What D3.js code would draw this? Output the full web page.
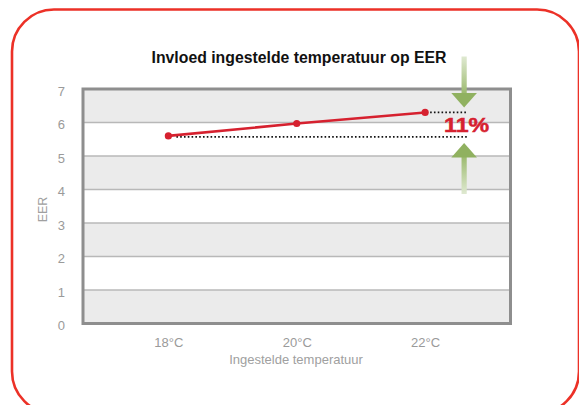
<!DOCTYPE html>
<html>
<head>
<meta charset="utf-8">
<script src="https://cdn.jsdelivr.net/npm/d3@7"></script>
<style>
  body { margin: 0; background: #fff; }
  svg { display: block; font-family: "Helvetica Neue", Helvetica, "Liberation Sans", Arial, sans-serif; }
</style>
</head>
<body>
<script>
// chart data
var categories = ["18°C", "20°C", "22°C"];
var eerValues = [5.6, 5.97, 6.3];
var yTicks = [0, 1, 2, 3, 4, 5, 6, 7];
// dotted reference levels (start category, level)
var refCats = ["18°C", "22°C"];
var refLevels = [5.57, 6.3];
var gainLabel = "11%";

var width = 579;
var height = 405;
var plot = {left: 83, right: 510.5, top: 89, bottom: 323.5};

var svg = d3.select("body").append("svg")
    .attr("width", width)
    .attr("height", height);

var defs = svg.append("defs");

// red rounded frame round everything
svg.append("rect")
    .attr("x", 12)
    .attr("y", 9.5)
    .attr("width", 567)
    .attr("height", 404)
    .attr("rx", 42)
    .attr("fill", "none")
    .attr("stroke", "#ec3127")
    .attr("stroke-width", 2.6);

// title
svg.append("text")
    .attr("x", 299)
    .attr("y", 62.5)
    .attr("text-anchor", "middle")
    .style("font-size", "15.8px")
    .style("font-weight", "bold")
    .attr("fill", "#111")
    .text("Invloed ingestelde temperatuur op EER");

var x = d3.scalePoint()
    .domain(categories)
    .range([plot.left, plot.right])
    .padding(0.665);

var y = d3.scaleLinear()
    .domain([0, 7])
    .range([plot.bottom, plot.top]);

// alternating bands
var bands = yTicks.slice(0, -1).filter(function (d) { return d % 2 === 0; });
svg.selectAll(".band").data(bands).enter().append("rect")
    .classed("band", true)
    .attr("x", plot.left)
    .attr("width", plot.right - plot.left)
    .attr("y", function (d) { return y(d + 1); })
    .attr("height", function (d) { return y(d) - y(d + 1); })
    .attr("fill", "#ebebeb");

// grid lines
svg.selectAll(".grid").data(yTicks.slice(1, -1)).enter().append("line")
    .classed("grid", true)
    .attr("x1", plot.left)
    .attr("x2", plot.right)
    .attr("y1", function (d) { return y(d); })
    .attr("y2", function (d) { return y(d); })
    .attr("stroke", "#b8b8b8")
    .attr("stroke-width", 1.3);

// plot frame
svg.append("rect")
    .attr("x", plot.left)
    .attr("y", plot.top)
    .attr("width", plot.right - plot.left)
    .attr("height", plot.bottom - plot.top)
    .attr("fill", "none")
    .attr("stroke", "#8e8e8e")
    .attr("stroke-width", 3);

// axes
var yAxis = svg.append("g")
    .attr("transform", "translate(" + plot.left + ",2)")
    .call(d3.axisLeft(y).tickValues(yTicks).tickSize(0).tickPadding(18).tickFormat(d3.format("d")));
var xAxis = svg.append("g")
    .attr("transform", "translate(0," + plot.bottom + ")")
    .call(d3.axisBottom(x).tickSize(0).tickPadding(14));
[yAxis, xAxis].forEach(function (g) {
    g.select(".domain").remove();
    g.selectAll("text")
        .attr("fill", "#9a9a9a")
        .style("font-size", "13px")
        .style("font-family", "inherit");
});

svg.append("text")
    .attr("x", 296)
    .attr("y", 364)
    .attr("text-anchor", "middle")
    .style("font-size", "13px")
    .attr("fill", "#a0a0a0")
    .text("Ingestelde temperatuur");

svg.append("text")
    .attr("transform", "translate(46.5,209.5) rotate(-90)")
    .attr("text-anchor", "middle")
    .style("font-size", "12.5px")
    .attr("fill", "#a0a0a0")
    .text("EER");

// dotted reference lines
var arrowX = x(categories[categories.length - 1]) + 39;
var refOffsets = [8, 5];
svg.selectAll(".ref").data(refLevels).enter().append("line")
    .classed("ref", true)
    .attr("x1", function (d, i) { return x(refCats[i]) + refOffsets[i]; })
    .attr("x2", arrowX + 3)
    .attr("y1", function (d) { return y(d); })
    .attr("y2", function (d) { return y(d); })
    .attr("stroke", "#111")
    .attr("stroke-width", 1.8)
    .attr("stroke-dasharray", "1.6,2.2");

// EER line
var line = d3.line()
    .x(function (d, i) { return x(categories[i]); })
    .y(function (d) { return y(d); });

svg.append("path")
    .datum(eerValues)
    .attr("d", line)
    .attr("fill", "none")
    .attr("stroke", "#d6212f")
    .attr("stroke-width", 2.6);

svg.selectAll(".pt").data(eerValues).enter().append("circle")
    .classed("pt", true)
    .attr("cx", function (d, i) { return x(categories[i]); })
    .attr("cy", function (d) { return y(d); })
    .attr("r", 3.6)
    .attr("fill", "#d6212f");

// green arrows
var gDown = defs.append("linearGradient").attr("id", "gDown")
    .attr("x1", 0).attr("y1", 0).attr("x2", 0).attr("y2", 1);
gDown.append("stop").attr("offset", "0%").attr("stop-color", "#dfe9d1");
gDown.append("stop").attr("offset", "100%").attr("stop-color", "#9cba6f");
var gUp = defs.append("linearGradient").attr("id", "gUp")
    .attr("x1", 0).attr("y1", 1).attr("x2", 0).attr("y2", 0);
gUp.append("stop").attr("offset", "0%").attr("stop-color", "#dfe9d1");
gUp.append("stop").attr("offset", "100%").attr("stop-color", "#9cba6f");

var topTip = y(refLevels[1]) - 5;
var botTip = y(refLevels[0]) + 6;
var headW = 12.8, headH = 14.5, shaftW = 2.6;

// down arrow
svg.append("rect")
    .attr("x", arrowX - shaftW).attr("width", shaftW * 2)
    .attr("y", 56.5).attr("height", topTip - headH - 56.5 + 1)
    .attr("fill", "url(#gDown)");
svg.append("path")
    .attr("d", "M" + (arrowX - headW) + "," + (topTip - headH) + "L" + (arrowX + headW) + "," + (topTip - headH) + "L" + arrowX + "," + topTip + "Z")
    .attr("fill", "#90b160");

// up arrow
svg.append("rect")
    .attr("x", arrowX - shaftW).attr("width", shaftW * 2)
    .attr("y", botTip + headH - 1).attr("height", 194 - botTip - headH + 1)
    .attr("fill", "url(#gUp)");
svg.append("path")
    .attr("d", "M" + (arrowX - headW) + "," + (botTip + headH) + "L" + (arrowX + headW) + "," + (botTip + headH) + "L" + arrowX + "," + botTip + "Z")
    .attr("fill", "#90b160");

// percentage label
svg.append("text")
    .attr("transform", "translate(" + (arrowX + 2.5) + ",131.8) scale(1.16,1)")
    .attr("text-anchor", "middle")
    .style("font-size", "20px")
    .style("font-weight", "bold")
    .style("stroke", "#d6212f")
    .style("stroke-width", 0.5)
    .attr("fill", "#d6212f")
    .text(gainLabel);
</script>
</body>
</html>
